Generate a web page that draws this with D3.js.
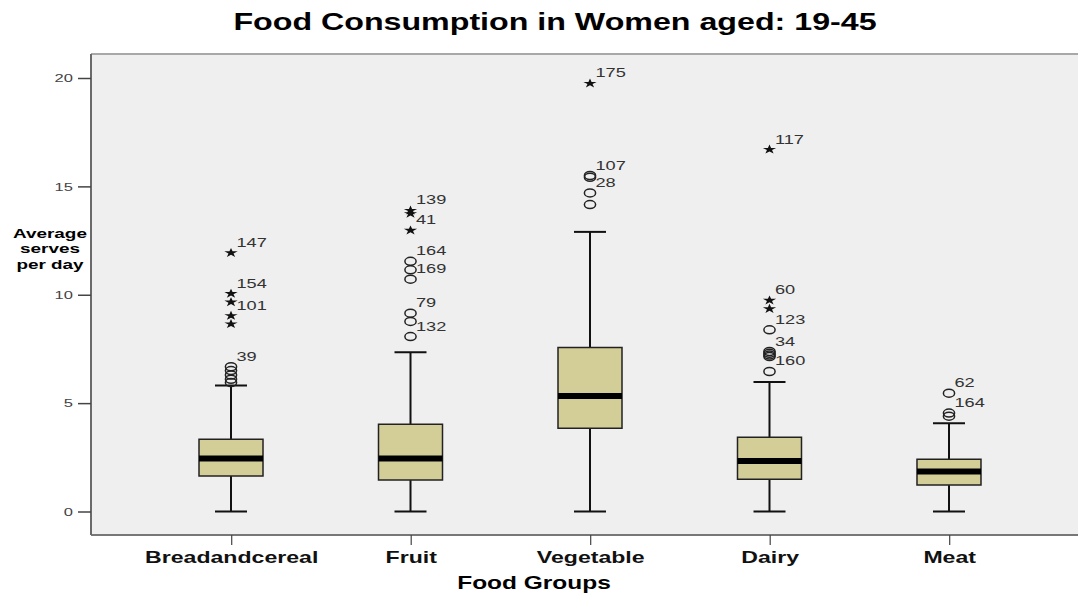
<!DOCTYPE html>
<html>
<head>
<meta charset="utf-8">
<script src="https://cdn.jsdelivr.net/npm/d3@7"></script>
<style>
	body { margin: 0; background: #fff; }
	svg { display: block; font-family: "Liberation Sans", Arial, sans-serif; }
	svg * { vector-effect: non-scaling-stroke; }
</style>
</head>
<body>
<svg id="chart"></svg>
<script>

// data
let groups = ['Breadandcereal', 'Fruit', 'Vegetable', 'Dairy', 'Meat'];
let lowWhisker = [0, 0, 0, 0, 0];
let q1 = [1.64, 1.45, 3.84, 1.49, 1.22];
let medians = [2.44, 2.44, 5.33, 2.33, 1.84];
let q3 = [3.33, 4.03, 7.57, 3.43, 2.41];
let highWhisker = [5.81, 7.35, 12.90, 5.97, 4.07];
let circleOutliers = [
	[6.68, 6.5, 6.3, 6.1, 5.95],
	[11.54, 11.15, 10.72, 9.15, 8.77, 8.07],
	[15.5, 15.42, 14.70, 14.16],
	[8.38, 7.38, 7.3, 7.22, 7.15, 6.46],
	[5.46, 4.54, 4.4]
];
let starOutliers = [
	[11.93, 10.05, 9.66, 9.03, 8.65],
	[13.89, 13.74, 12.97],
	[19.75],
	[16.70, 9.74, 9.35],
	[]
];
let caseLabels = [
	[[11.93, '147'], [10.05, '154'], [9.03, '101'], [6.68, '39']],
	[[13.89, '139'], [12.97, '41'], [11.54, '164'], [10.72, '169'], [9.15, '79'], [8.07, '132']],
	[[19.75, '175'], [15.5, '107'], [14.70, '28']],
	[[16.70, '117'], [9.74, '60'], [8.38, '123'], [7.38, '34'], [6.46, '160']],
	[[5.46, '62'], [4.54, '164']]
];
let yTicks = [0, 5, 10, 15, 20];
let titleText = 'Food Consumption in Women aged: 19-45';
let xTitle = 'Food Groups';
let yTitle = ['Average', 'serves', 'per day'];

// the picture is stretched sideways, so draw in a narrower box and stretch it
let W = 1078, H = 593;
let sx = 1.4;
let iw = W / sx;
let plotLeft = 91 / sx, plotTop = 54, plotBottom = 535;

let svg = d3.select('#chart')
	.attr('width', W)
	.attr('height', H)
	.attr('viewBox', `0 0 ${iw} ${H}`)
	.attr('preserveAspectRatio', 'none');

let xScale = d3.scalePoint()
	.domain(groups)
	.range([plotLeft, 1089 / sx])
	.padding(0.78);
let yScale = d3.scaleLinear()
	.domain([0, 20])
	.range([511.5, 78]);

let boxW = 64 / sx;
let capW = 32 / sx;

// title
svg.append('text')
	.attr('x', 555 / sx)
	.attr('y', 30)
	.attr('text-anchor', 'middle')
	.attr('font-size', 23)
	.attr('font-weight', 'bold')
	.attr('fill', '#000')
	.text(titleText);

// plot frame
svg.append('rect')
	.attr('x', plotLeft)
	.attr('y', plotTop)
	.attr('width', iw - plotLeft + 5)
	.attr('height', plotBottom - plotTop)
	.attr('fill', '#efefef');
svg.append('line')
	.attr('x1', plotLeft).attr('x2', iw + 5)
	.attr('y1', plotTop).attr('y2', plotTop)
	.attr('stroke', '#a8a8a8').attr('stroke-width', 2);
svg.append('line')
	.attr('x1', plotLeft).attr('x2', iw + 5)
	.attr('y1', plotBottom).attr('y2', plotBottom)
	.attr('stroke', '#777').attr('stroke-width', 2);
svg.append('line')
	.attr('x1', plotLeft).attr('x2', plotLeft)
	.attr('y1', plotTop).attr('y2', plotBottom)
	.attr('stroke', '#6a6a6a').attr('stroke-width', 2);

// y axis
let yAxis = svg.append('g')
	.attr('transform', `translate(${plotLeft},0)`)
	.call(d3.axisLeft(yScale).tickValues(yTicks).tickSize(13 / sx).tickPadding(5 / sx));
yAxis.select('.domain').remove();
yAxis.selectAll('.tick line').attr('stroke', '#444').attr('stroke-width', 1.5);
yAxis.selectAll('.tick text')
	.attr('font-family', '"Liberation Sans", Arial, sans-serif')
	.attr('font-size', 11.8)
	.attr('fill', '#444');

// x axis
let xAxis = svg.append('g')
	.attr('transform', `translate(0,${plotBottom})`)
	.call(d3.axisBottom(xScale).tickSize(10).tickPadding(6));
xAxis.select('.domain').remove();
xAxis.selectAll('.tick line').attr('stroke', '#444').attr('stroke-width', 1.2);
xAxis.selectAll('.tick text')
	.attr('font-family', '"Liberation Sans", Arial, sans-serif')
	.attr('font-size', 16.5)
	.attr('font-weight', 'bold')
	.attr('fill', '#111');

// axis titles
svg.append('text')
	.attr('x', 534 / sx)
	.attr('y', 589)
	.attr('text-anchor', 'middle')
	.attr('font-size', 17.5)
	.attr('font-weight', 'bold')
	.text(xTitle);
svg.selectAll('text.ytitle')
	.data(yTitle)
	.join('text')
	.attr('class', 'ytitle')
	.attr('x', 50 / sx)
	.attr('y', (d, i) => 238 + i * 15.5)
	.attr('text-anchor', 'middle')
	.attr('font-size', 13.5)
	.attr('font-weight', 'bold')
	.text(d => d);

// boxes
groups.forEach((g, i) => {
	let cx = xScale(g);
	let grp = svg.append('g');

	// whisker stems
	grp.append('line')
		.attr('x1', cx).attr('x2', cx)
		.attr('y1', yScale(q3[i])).attr('y2', yScale(highWhisker[i]))
		.attr('stroke', '#111').attr('stroke-width', 2);
	grp.append('line')
		.attr('x1', cx).attr('x2', cx)
		.attr('y1', yScale(q1[i])).attr('y2', yScale(lowWhisker[i]))
		.attr('stroke', '#111').attr('stroke-width', 2);
	// caps
	[highWhisker[i], lowWhisker[i]].forEach(v => {
		grp.append('line')
			.attr('x1', cx - capW / 2).attr('x2', cx + capW / 2)
			.attr('y1', yScale(v)).attr('y2', yScale(v))
			.attr('stroke', '#111').attr('stroke-width', 2);
	});
	// box
	grp.append('rect')
		.attr('x', cx - boxW / 2)
		.attr('y', yScale(q3[i]))
		.attr('width', boxW)
		.attr('height', yScale(q1[i]) - yScale(q3[i]))
		.attr('fill', '#d3ce98')
		.attr('stroke', '#222')
		.attr('stroke-width', 1.5);
	// median
	grp.append('line')
		.attr('x1', cx - boxW / 2).attr('x2', cx + boxW / 2)
		.attr('y1', yScale(medians[i])).attr('y2', yScale(medians[i]))
		.attr('stroke', '#000').attr('stroke-width', 6);

	// circle outliers
	grp.selectAll('circle')
		.data(circleOutliers[i])
		.join('circle')
		.attr('cx', cx)
		.attr('cy', d => yScale(d))
		.attr('r', 4)
		.attr('fill', 'none')
		.attr('stroke', '#222')
		.attr('stroke-width', 1.5);

	// star outliers
	grp.selectAll('path.star')
		.data(starOutliers[i])
		.join('path')
		.attr('class', 'star')
		.attr('transform', d => `translate(${cx},${yScale(d)})`)
		.attr('d', d3.symbol(d3.symbolStar, 28))
		.attr('fill', '#111');

	// case labels
	grp.selectAll('text.case')
		.data(caseLabels[i])
		.join('text')
		.attr('class', 'case')
		.attr('x', cx + 5.5 / sx)
		.attr('y', d => yScale(d[0]) - 6)
		.attr('font-size', 13)
		.attr('fill', '#333')
		.text(d => d[1]);
});
</script>
</body>
</html>
